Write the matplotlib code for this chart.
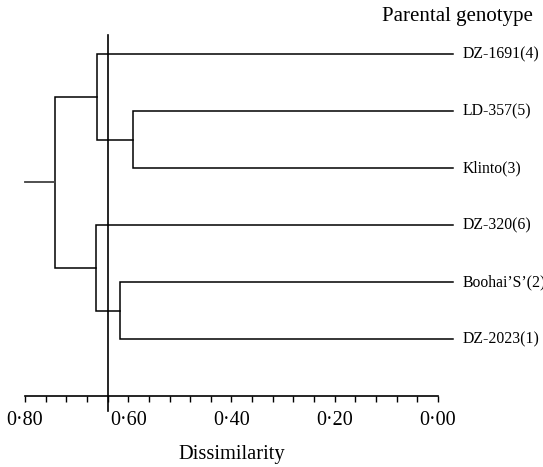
import matplotlib
matplotlib.use("Agg")
import matplotlib.pyplot as plt
from matplotlib.ticker import MultipleLocator, FuncFormatter

# ---- data ----
leaf_labels = ["DZ-1691(4)", "LD-357(5)", "Klinto(3)", "DZ-320(6)",
               "Boohai\u2019S\u2019(2)", "DZ-2023(1)"]
# merges: (child_a, child_b, dissimilarity); leaves are 0..5, new nodes 6..
merge_a = [1, 4, 0, 3, 8]
merge_b = [2, 5, 6, 7, 9]
merge_h = [0.590, 0.616, 0.661, 0.662, 0.742]
cut_level = 0.640
x_ticks_major = [0.80, 0.60, 0.40, 0.20, 0.00]

plt.rcParams['font.family'] = ['Liberation Serif', 'DejaVu Serif']

W, H = 543, 467
fig = plt.figure(figsize=(W / 100, H / 100), dpi=100)
ax = fig.add_axes([25 / W, 71 / H, 413 / W, 361 / H])
ax.set_xlim(0.80, 0.00)
ax.set_ylim(6.0, -0.34)

lw = 1.1
leaf_end = -0.029
n = len(leaf_labels)
pos = {i: (leaf_end, float(i)) for i in range(n)}
for k, (a, b, h) in enumerate(zip(merge_a, merge_b, merge_h)):
    xa, ya = pos[a]
    xb, yb = pos[b]
    ax.plot([xa, h, h, xb], [ya, ya, yb, yb], color='black', lw=lw,
            clip_on=False, solid_joinstyle='miter')
    pos[n + k] = (h, (ya + yb) / 2)
# root stub
rx, ry = pos[n + len(merge_h) - 1]
ax.plot([0.80, rx], [ry, ry], color='#444444', lw=lw * 1.2, clip_on=False)

# leaf labels
for i, lab in enumerate(leaf_labels):
    ax.text(-0.048, i, lab, ha='left', va='center', fontsize=11.3,
            clip_on=False)

# cut line
ax.axvline(cut_level, ymin=-0.0416, ymax=1.0, color='black', lw=1.2,
           clip_on=False)

for s in ['top', 'left', 'right']:
    ax.spines[s].set_visible(False)
ax.spines['bottom'].set_linewidth(1.2)
ax.set_yticks([])
ax.xaxis.set_major_locator(MultipleLocator(0.04))
ax.xaxis.set_major_formatter(FuncFormatter(
    lambda v, p: (f"{v:.2f}".replace('.', '\u00b7'))
    if any(abs(v - t) < 1e-6 for t in x_ticks_major) else ""))
ax.tick_params(axis='x', direction='out', length=4.3, width=1.0,
               labelsize=14.5, pad=6.5)
ax.set_xlabel("Dissimilarity", fontsize=14.8, labelpad=11)
ax.patch.set_visible(False)

fig.text(382 / W, 1 - 16 / H, "Parental genotype", ha='left', va='center',
         fontsize=15)

fig.savefig("out.png", dpi=100)
